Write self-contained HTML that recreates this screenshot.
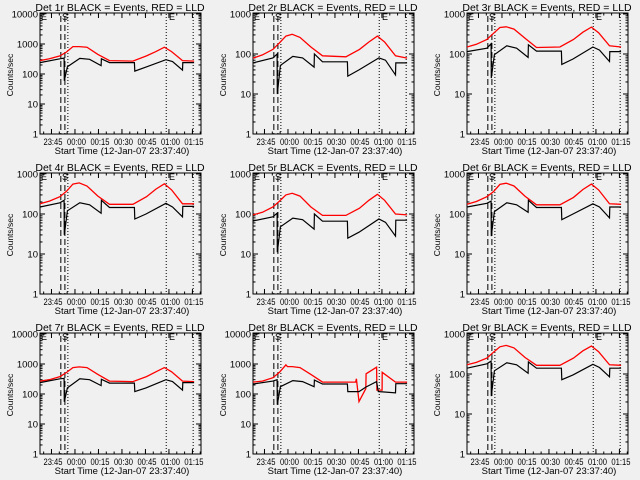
<!DOCTYPE html>
<html><head><meta charset="utf-8">
<style>
html,body{margin:0;padding:0;background:#f0f0f0;}
svg{display:block;}
text{font-family:"Liberation Sans",sans-serif;fill:#000;}
</style></head>
<body>
<svg id="chart" width="640" height="480" viewBox="0 0 640 480" xmlns="http://www.w3.org/2000/svg">
<rect width="640" height="480" fill="#f0f0f0"/>
</svg>
<script>
// ---- data ----
const detNames = ["1r","2r","3r","4r","5r","6r","7r","8r","9r"];
const yMaxes = [10000,1000,1000,1000,1000,1000,10000,10000,1000];
const tickLabelsTime = ["23:45","00:00","00:15","00:30","00:45","01:00","01:15"];
const tickMinutesTime = [7.33,22.33,37.33,52.33,67.33,82.33,97.33];
const tRange = [0,102.8];
const dashedLines = [13.3,15.9];
const dottedLines = [17.8,80.6,97.8];

const tBlackStd = [0,12.7,15.4,15.5,17.5,25.4,31.7,39,39.2,44.4,60.3,60.5,67.7,80.4,84.6,91,91.2,98.4];
const tRedStd = [0,6,12.7,16.9,21,25,30,37,44.4,59.3,68,74,79.4,84,91,98.4];

const black1 = [240,320,340,60,175,330,310,190,320,240,240,125,170,300,260,135,240,240];
const red1 = [280,320,400,540,820,820,780,450,280,270,400,560,780,560,280,270];
const black2 = [60,80,100,10,52,87,80,47,100,64,64,28,40,80,70,30,60,60];
const red2 = [79,95,130,190,280,310,260,150,90,85,130,200,280,200,90,79];
const black3 = [115,140,180,25,96,160,140,82,170,118,118,55,75,150,125,65,115,115];
const red3 = [150,175,230,330,460,480,420,250,145,150,230,350,470,340,160,150];
const black4 = [150,190,220,30,120,190,170,105,220,145,145,75,100,185,150,85,155,155];
const red4 = [180,210,270,370,560,600,500,280,175,175,270,420,570,400,180,180];
const black5 = [67,85,105,11,48,79,72,42,100,66,66,25,35,75,62,28,70,70];
const red5 = [95,110,150,210,300,330,280,150,92,92,140,220,310,220,100,95];
const black6 = [150,185,210,28,115,190,170,110,220,145,145,72,100,180,150,80,150,150];
const red6 = [175,205,270,360,550,590,500,280,170,170,260,410,560,400,180,175];
const black7 = [240,320,330,55,160,320,300,190,310,230,230,120,160,300,260,135,240,240];
const red7 = [270,300,380,520,760,800,760,450,270,260,380,550,760,550,270,260];
const tBlack8 = [0,12.7,15.4,15.5,17.5,25.4,31.7,39,39.2,44.4,60.3,60.5,67.7,72,78.9,80,91,91.2,98.4];
const black8 = [215,270,300,44,175,280,260,175,290,215,215,120,120,170,260,120,110,220,220];
const tRed8 = [0,6,12.7,16.9,21,22,25,30,37,44.4,65.5,66,67.7,72,72.2,78.9,79.1,82.4,82.5,91,98.4];
const red8 = [250,270,350,530,930,820,820,760,450,250,250,320,56,150,470,780,135,135,530,250,250];
const black9 = [140,180,210,28,120,190,170,105,200,140,140,72,95,175,145,85,140,140];
const red9 = [170,195,250,350,480,520,450,260,165,165,250,380,500,360,170,165];

const blackTimes = [tBlackStd,tBlackStd,tBlackStd,tBlackStd,tBlackStd,tBlackStd,tBlackStd,tBlack8,tBlackStd];
const redTimes = [tRedStd,tRedStd,tRedStd,tRedStd,tRedStd,tRedStd,tRedStd,tRed8,tRedStd];
const blackSeries = [black1,black2,black3,black4,black5,black6,black7,black8,black9];
const redSeries = [red1,red2,red3,red4,red5,red6,red7,red8,red9];

// ---- drawing ----
const NS = "http://www.w3.org/2000/svg";
const svg = document.getElementById("chart");
function mk(tag, attrs, parent){
  const e = document.createElementNS(NS, tag);
  for (const k in attrs) e.setAttribute(k, attrs[k]);
  parent.appendChild(e);
  return e;
}
const colX = [0,213,427], rowY = [0,160,320];
const L = 40, R = 201, T = 14, B = 134;

for (let p = 0; p < 9; p++) {
  const ox = colX[p % 3], oy = rowY[Math.floor(p / 3)];
  const g = mk("g", {transform: "translate(" + ox + "," + oy + ")"}, svg);
  
  
  const decades = Math.round(Math.log10(yMaxes[p]));
  const xS = t => L + (t - tRange[0]) / (tRange[1] - tRange[0]) * (R - L);
  const yS = v => B - Math.log10(Math.max(v, 1)) / decades * (B - T);

  const title = mk("text", {x: 120, y: 11, "font-size": 10.5, "text-anchor": "middle"}, g);
  title.textContent = "Det " + detNames[p] + " BLACK = Events, RED = LLD";
  
  

  const frame = mk("rect", {x: L, y: T - 1, width: R - L, height: B - T + 1, fill: "none", stroke: "#000", "stroke-width": 1}, g);
  
  

  for (let d = 0; d <= decades; d++) {
    const y = yS(Math.pow(10, d));
    mk("line", {x1: L, x2: L + 5, y1: y, y2: y, stroke: "#000"}, g);
    mk("line", {x1: R - 5, x2: R, y1: y, y2: y, stroke: "#000"}, g);
    const lb = mk("text", {x: L - 2, y: y + 3.5, "font-size": 9.5, "text-anchor": "end"}, g);
    lb.textContent = String(Math.pow(10, d));
    
    
    if (d < decades) for (let m = 2; m <= 9; m++) {
      const ym = yS(m * Math.pow(10, d));
      mk("line", {x1: L, x2: L + 2.5, y1: ym, y2: ym, stroke: "#000"}, g);
      mk("line", {x1: R - 2.5, x2: R, y1: ym, y2: ym, stroke: "#000"}, g);
    }
  }
  const yt = mk("text", {x: 0, y: 0, "font-size": 8.5, "text-anchor": "middle", transform: "translate(13,75) rotate(-90)"}, g);
  yt.textContent = "Counts/sec";
  
  

  for (let i = 0; i < tickMinutesTime.length; i++) {
    const x = xS(tickMinutesTime[i]);
    mk("line", {x1: x, x2: x, y1: B, y2: B - 5, stroke: "#000"}, g);
    mk("line", {x1: x, x2: x, y1: T - 1, y2: T + 4, stroke: "#000"}, g);
    const lb = mk("text", {x: x + 1.5, y: 145, "font-size": 9, "text-anchor": "middle", textLength: 19, lengthAdjust: "spacingAndGlyphs"}, g);
    lb.textContent = tickLabelsTime[i];
    
    
  }
  for (let t = 2.33; t < tRange[1]; t += 5) {
    const x = xS(t);
    mk("line", {x1: x, x2: x, y1: B, y2: B - 2.5, stroke: "#000"}, g);
    mk("line", {x1: x, x2: x, y1: T - 1, y2: T + 1.5, stroke: "#000"}, g);
  }
  const xt = mk("text", {x: 122, y: 154, "font-size": 9.5, "text-anchor": "middle"}, g);
  xt.textContent = "Start Time (12-Jan-07 23:37:40)";
  
  

  dashedLines.forEach(t => {
    const l = mk("line", {x1: xS(t), x2: xS(t), y1: T + 2, y2: B, stroke: "#000", "stroke-dasharray": "6,3"}, g);
    
    
  });
  dottedLines.forEach(t => {
    const l = mk("line", {x1: xS(t), x2: xS(t), y1: T, y2: B, stroke: "#000", "stroke-dasharray": "1,2"}, g);
    
    
  });
  [["E", 41], ["S", 62], ["E", 169]].forEach(a => {
    const m = mk("text", {x: a[1], y: T + 6, "font-size": 9}, g);
    m.textContent = a[0];
    
    
  });

  const pts = (ts, vs) => ts.map((t, i) => xS(t).toFixed(1) + "," + yS(vs[i]).toFixed(1)).join(" ");
  const red = mk("polyline", {points: pts(redTimes[p], redSeries[p]), fill: "none", stroke: "#ff0000", "stroke-width": 1.3}, g);
  
  
  const blk = mk("polyline", {points: pts(blackTimes[p], blackSeries[p]), fill: "none", stroke: "#000", "stroke-width": 1.2}, g);
  
  
}
</script>
</body></html>
